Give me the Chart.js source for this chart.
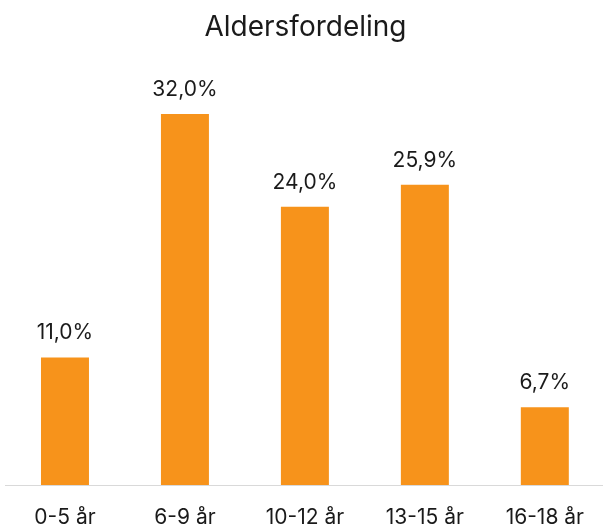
<!DOCTYPE html>
<html>
<head>
<meta charset="utf-8">
<script src="https://cdn.jsdelivr.net/npm/chart.js@4"></script>
<style>
    html, body { margin: 0; padding: 0; background: #fff; overflow: hidden; }
    #wrap { width: 606px; height: 526px; }
</style>
</head>
<body>
<div id="wrap"><canvas id="grafico"></canvas></div>
<script>
const kategorier = ['0-5 år', '6-9 år', '10-12 år', '13-15 år', '16-18 år'];
const andeler = [11.0, 32.0, 24.0, 25.9, 6.7];
const tittel = 'Aldersfordeling';

const fonte = "Inter, 'Liberation Sans', Arial, sans-serif";

// skriver prosentverdien over hver søyle
const verdiEtiketter = {
    id: 'verdiEtiketter',
    afterDatasetsDraw(chart) {
        const ctx = chart.ctx;
        const meta = chart.getDatasetMeta(0);
        ctx.save();
        ctx.font = `21px ${fonte}`;
        ctx.fillStyle = '#1a1a1a';
        ctx.textAlign = 'center';
        ctx.textBaseline = 'alphabetic';
        meta.data.forEach((bar, i) => {
            const tekst = andeler[i].toFixed(1).replace('.', ',') + '%';
            ctx.fillText(tekst, bar.x, bar.y - 18);
        });
        ctx.restore();
    }
};

new Chart(document.getElementById('grafico'), {
    type: 'bar',
    data: {
        labels: kategorier,
        datasets: [{
            data: andeler,
            backgroundColor: '#F7931B',
            categoryPercentage: 1,
            barPercentage: 0.4
        }]
    },
    options: {
        responsive: true,
        maintainAspectRatio: false,
        animation: false,
        layout: { padding: { left: 5, right: 0, top: 0, bottom: 0 } },
        plugins: {
            legend: { display: false },
            tooltip: { enabled: false },
            title: {
                display: true,
                text: tittel,
                color: '#1a1a1a',
                font: { family: fonte, size: 28, weight: 'normal', lineHeight: 1.2 },
                padding: { top: 11, bottom: 23 }
            }
        },
        scales: {
            x: {
                grid: { display: false, drawTicks: false },
                border: { display: true, color: '#d9d9d9', width: 1 },
                ticks: {
                    color: '#1a1a1a',
                    font: { family: fonte, size: 21, lineHeight: 1 },
                    padding: 22,
                    maxRotation: 0
                },
                // fast høyde på aksen så grunnlinjen havner riktig
                afterFit(scale) {
                    scale.height = 41;
                }
            },
            y: {
                display: false,
                min: 0,
                max: 36
            }
        }
    },
    plugins: [verdiEtiketter]
});
</script>
</body>
</html>
